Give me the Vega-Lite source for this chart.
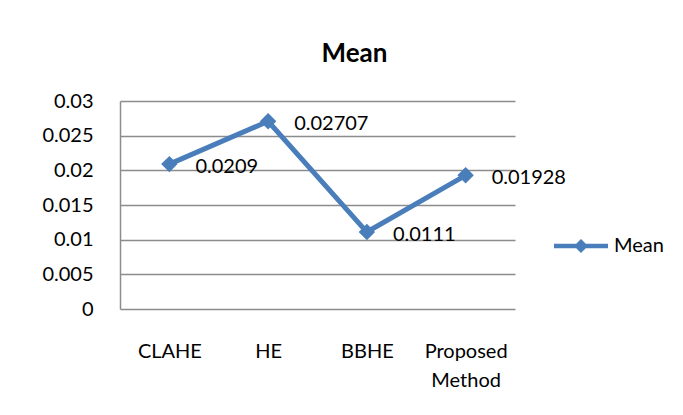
{
  "$schema": "https://vega.github.io/schema/vega-lite/v6.json",
  "width": 395,
  "height": 208,
  "autosize": {"type": "none"},
  "padding": {"left": 120, "top": 101, "right": 168, "bottom": 106},
  "background": "white",
  "title": {
    "text": "Mean",
    "fontSize": 26,
    "fontWeight": "bold",
    "font": "Lato",
    "color": "#000000",
    "anchor": "middle",
    "dx": 37,
    "offset": 24
  },
  "config": {
    "font": "Lato",
    "view": {"stroke": null},
    "axis": {"labelFont": "Lato", "labelColor": "#000000"}
  },
  "data": {
    "values": [
      {"method": "CLAHE", "value": 0.0209, "label": "0.0209", "series": "Mean", "order": 1},
      {"method": "HE", "value": 0.02707, "label": "0.02707", "series": "Mean", "order": 2},
      {"method": "BBHE", "value": 0.0111, "label": "0.0111", "series": "Mean", "order": 3},
      {"method": "Proposed Method", "value": 0.01928, "label": "0.01928", "series": "Mean", "order": 4}
    ]
  },
  "encoding": {
    "x": {
      "field": "method",
      "type": "nominal",
      "sort": ["CLAHE", "HE", "BBHE", "Proposed Method"],
      "scale": {"paddingInner": 0, "paddingOuter": 0},
      "axis": {
        "title": null,
        "labelAngle": 0,
        "labelFontSize": 20,
        "labelPadding": 32,
        "labelLineHeight": 29,
        "labelBaseline": "top",
        "ticks": false,
        "domain": false,
        "grid": false,
        "labelExpr": "datum.label == 'Proposed Method' ? ['Proposed', 'Method'] : datum.label"
      }
    },
    "y": {
      "field": "value",
      "type": "quantitative",
      "scale": {"domain": [0, 0.03], "nice": false, "zero": true},
      "axis": {
        "title": null,
        "values": [0, 0.005, 0.01, 0.015, 0.02, 0.025, 0.03],
        "format": "~g",
        "labelFontSize": 20,
        "labelPadding": 27,
        "ticks": false,
        "domain": true,
        "domainColor": "#8c8c8c",
        "domainWidth": 1.5,
        "grid": true,
        "gridColor": "#8c8c8c",
        "gridWidth": 1.5
      }
    }
  },
  "layer": [
    {
      "mark": {"type": "line", "strokeWidth": 5, "color": "#4a7ebb"},
      "encoding": {}
    },
    {
      "mark": {"type": "point", "shape": "diamond", "filled": true, "size": 270, "opacity": 1},
      "encoding": {
        "color": {
          "field": "series",
          "type": "nominal",
          "scale": {"range": ["#4a7ebb"]},
          "legend": {
            "title": null,
            "orient": "none",
            "legendX": 450,
            "legendY": 134,
            "padding": 0,
            "symbolType": "M-2.5,-0.2H2.5V0.2H-2.5Z M0,-0.65L0.65,0L0,0.65L-0.65,0Z",
            "symbolSize": 467,
            "symbolStrokeWidth": 0,
            "symbolOpacity": 1,
            "labelFontSize": 20,
            "labelFont": "Lato",
            "labelColor": "#000000",
            "labelOffset": 22
          }
        }
      }
    },
    {
      "mark": {"type": "text", "align": "left", "baseline": "middle", "dx": 26, "dy": 3, "fontSize": 20, "color": "#000000"},
      "encoding": {"text": {"field": "label"}}
    }
  ]
}
